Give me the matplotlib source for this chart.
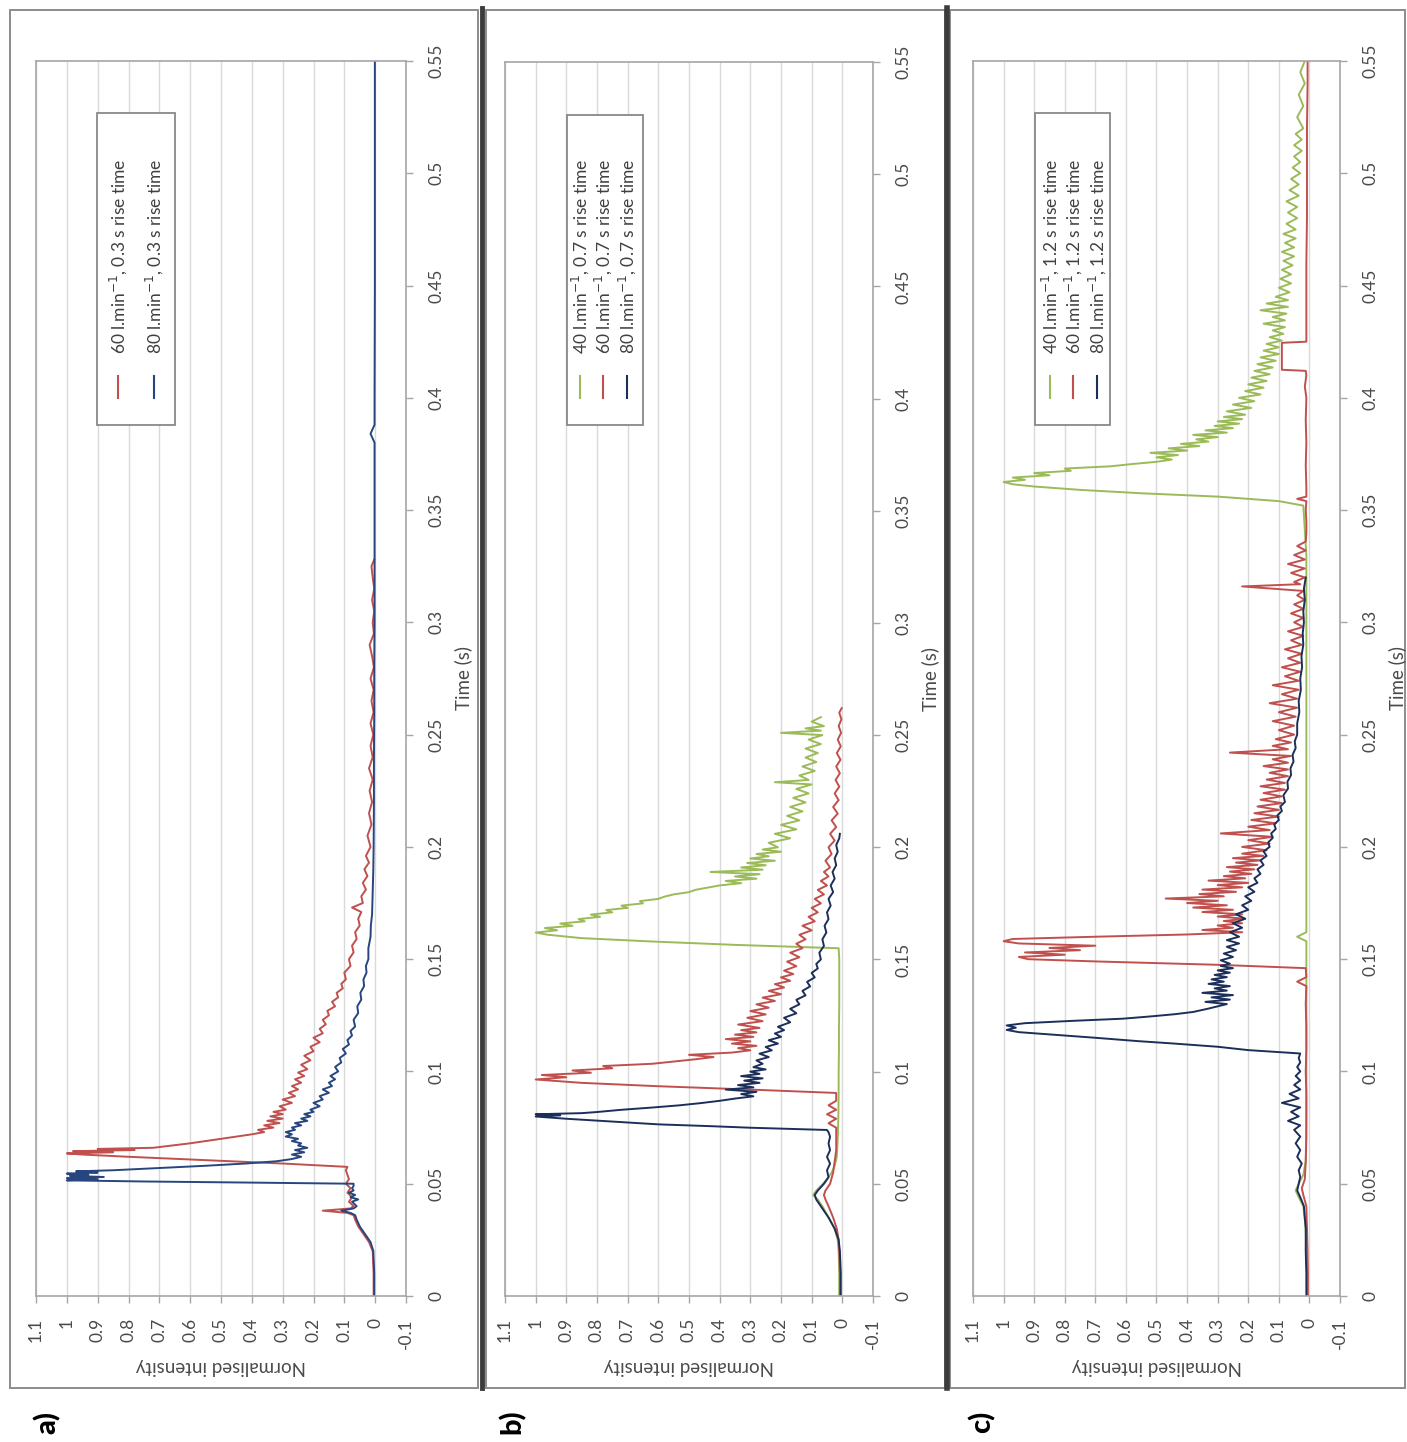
import numpy as np
import matplotlib
matplotlib.use("Agg")
import matplotlib.pyplot as plt
from matplotlib.lines import Line2D
from matplotlib.patches import Rectangle

plt.rcParams['font.family'] = ['Lato', 'DejaVu Sans']
plt.rcParams['mathtext.fontset'] = 'dejavusans'

# ---------------- data ----------------
intensity_ticks = [-0.1, 0.0, 0.1, 0.2, 0.3, 0.4, 0.5, 0.6, 0.7, 0.8, 0.9, 1.0, 1.1]
intensity_labels = ["-0.1", "0", "0.1", "0.2", "0.3", "0.4", "0.5", "0.6", "0.7", "0.8", "0.9", "1", "1.1"]
time_ticks = [0.0, 0.05, 0.1, 0.15, 0.2, 0.25, 0.3, 0.35, 0.4, 0.45, 0.5, 0.55]
time_labels = ["0", "0.05", "0.1", "0.15", "0.2", "0.25", "0.3", "0.35", "0.4", "0.45", "0.5", "0.55"]

legend_a = [r"60 l.min$^{-1}$, 0.3 s rise time", r"80 l.min$^{-1}$, 0.3 s rise time"]
legend_b = [r"40 l.min$^{-1}$, 0.7 s rise time", r"60 l.min$^{-1}$, 0.7 s rise time", r"80 l.min$^{-1}$, 0.7 s rise time"]
legend_c = [r"40 l.min$^{-1}$, 1.2 s rise time", r"60 l.min$^{-1}$, 1.2 s rise time", r"80 l.min$^{-1}$, 1.2 s rise time"]
panel_labels = ["a)", "b)", "c)"]

# Panel a, 60 l/min, 0.3 s
a60_t = [0.000, 0.010, 0.020, 0.024, 0.028, 0.031, 0.034, 0.036, 0.037, 0.038,
         0.039, 0.040, 0.042, 0.044, 0.046, 0.048, 0.050, 0.052, 0.054, 0.056,
         0.0575, 0.0590, 0.0605, 0.0620, 0.0630, 0.0635, 0.0640, 0.0645, 0.0650, 0.0655,
         0.0660, 0.0670, 0.0680, 0.0690, 0.0700, 0.0710, 0.0720, 0.0730, 0.0740, 0.0750,
         0.0760, 0.0770, 0.0780, 0.0790, 0.0800, 0.0810, 0.0820, 0.0830, 0.0845, 0.0860,
         0.0875, 0.0890, 0.0905, 0.0920, 0.0935, 0.0950, 0.0965, 0.0980, 0.0995, 0.1010,
         0.1030, 0.1050, 0.1070, 0.1090, 0.1110, 0.1130, 0.1150, 0.1170, 0.1190, 0.1210,
         0.1230, 0.1250, 0.1270, 0.1290, 0.1310, 0.1330, 0.1350, 0.1370, 0.1390, 0.1410,
         0.1440, 0.1470, 0.1500, 0.1530, 0.1560, 0.1590, 0.1620, 0.1650, 0.1680, 0.1710,
         0.1730, 0.1750, 0.1780, 0.1810, 0.1840, 0.1870, 0.1900, 0.1930, 0.1960, 0.2000,
         0.2050, 0.2100, 0.2150, 0.2200, 0.2250, 0.2300, 0.2350, 0.2400, 0.2450, 0.2500,
         0.2550, 0.2600, 0.2650, 0.2700, 0.2750, 0.2800, 0.2850, 0.2900, 0.2950, 0.3000,
         0.3050, 0.3100, 0.3150, 0.3200, 0.3250, 0.3280]
a60_v = [0.005, 0.005, 0.008, 0.02, 0.04, 0.055, 0.065, 0.07, 0.09, 0.17,
         0.08, 0.07, 0.085, 0.075, 0.09, 0.08, 0.095, 0.085, 0.09, 0.095,
         0.09, 0.3, 0.55, 0.8, 0.95, 1.0, 0.85, 0.98, 0.78, 0.9,
         0.72, 0.66, 0.6, 0.55, 0.5, 0.45, 0.4, 0.36, 0.38, 0.33,
         0.36, 0.31, 0.35, 0.3, 0.34, 0.3, 0.33, 0.29, 0.31, 0.27,
         0.3, 0.26, 0.28, 0.25, 0.27, 0.24, 0.26, 0.23, 0.25, 0.22,
         0.24, 0.21, 0.23, 0.2, 0.21, 0.18, 0.2, 0.17, 0.18, 0.16,
         0.17, 0.15, 0.155, 0.13, 0.14, 0.12, 0.125, 0.105, 0.11, 0.095,
         0.1, 0.08, 0.085, 0.07, 0.075, 0.06, 0.065, 0.05, 0.055, 0.045,
         0.075, 0.04, 0.045, 0.03, 0.04, 0.025, 0.035, 0.02, 0.03, 0.015,
         0.025, 0.012, 0.02, 0.01, 0.018, 0.008, 0.02, 0.008, 0.015, 0.006,
         0.015, 0.005, 0.012, 0.005, 0.015, 0.004, 0.01, 0.018, 0.004, 0.008,
         0.003, 0.01, 0.003, 0.008, 0.012, 0.003]

# Panel a, 80 l/min, 0.3 s
a80_t = [0.000, 0.010, 0.020, 0.024, 0.028, 0.031, 0.034, 0.036, 0.037, 0.038,
         0.039, 0.040, 0.042, 0.043, 0.044, 0.045, 0.046, 0.047, 0.048, 0.049,
         0.0500, 0.0505, 0.0510, 0.0515, 0.0520, 0.0525, 0.0530, 0.0535, 0.0540, 0.0545,
         0.0550, 0.0555, 0.0560, 0.0570, 0.0580, 0.0590, 0.0600, 0.0610, 0.0620, 0.0630,
         0.0640, 0.0650, 0.0660, 0.0670, 0.0680, 0.0690, 0.0700, 0.0710, 0.0720, 0.0730,
         0.0740, 0.0750, 0.0760, 0.0770, 0.0780, 0.0790, 0.0800, 0.0810, 0.0820, 0.0830,
         0.0845, 0.0860, 0.0875, 0.0890, 0.0905, 0.0920, 0.0935, 0.0950, 0.0965, 0.0980,
         0.1000, 0.1020, 0.1040, 0.1060, 0.1080, 0.1100, 0.1120, 0.1140, 0.1160, 0.1180,
         0.1200, 0.1230, 0.1260, 0.1290, 0.1320, 0.1350, 0.1380, 0.1410, 0.1440, 0.1470,
         0.1500, 0.1550, 0.1600, 0.1650, 0.1700, 0.1800, 0.1900, 0.2000, 0.2200, 0.2400,
         0.2600, 0.2800, 0.3000, 0.3200, 0.3400, 0.3600, 0.3800, 0.3840, 0.3880, 0.4000,
         0.4500, 0.5000, 0.5500]
a80_v = [0.003, 0.003, 0.006, 0.015, 0.035, 0.05, 0.06, 0.065, 0.08, 0.11,
         0.07, 0.06, 0.075, 0.055, 0.08, 0.065, 0.085, 0.07, 0.075, 0.07,
         0.07, 0.4, 0.75, 1.0, 0.9, 1.0, 0.88, 0.99, 0.93, 1.0,
         0.9, 0.97, 0.85, 0.7, 0.55, 0.42, 0.32, 0.27, 0.24, 0.27,
         0.23, 0.26, 0.22, 0.25, 0.24, 0.27, 0.25, 0.29, 0.27, 0.29,
         0.26, 0.27, 0.24, 0.26, 0.22, 0.24, 0.21, 0.23, 0.2, 0.21,
         0.18, 0.2, 0.17, 0.18, 0.15, 0.17, 0.14, 0.15, 0.13, 0.145,
         0.12, 0.13, 0.11, 0.115, 0.095, 0.105, 0.085, 0.09, 0.075, 0.08,
         0.065, 0.07, 0.055, 0.058, 0.045, 0.048, 0.036, 0.038, 0.028, 0.03,
         0.022, 0.022, 0.015, 0.014, 0.01, 0.008, 0.006, 0.005, 0.004, 0.004,
         0.003, 0.003, 0.002, 0.002, 0.002, 0.002, 0.002, 0.015, 0.002, 0.002,
         0.001, 0.001, 0.001]

# Panel b, 40 l/min, 0.7 s
b40_t = [0.000, 0.010, 0.020, 0.025, 0.030, 0.035, 0.040, 0.043, 0.045, 0.047,
         0.049, 0.052, 0.055, 0.058, 0.062, 0.070, 0.080, 0.090, 0.100, 0.110,
         0.120, 0.130, 0.140, 0.150, 0.1550, 0.1565, 0.1580, 0.1595, 0.1610, 0.1620,
         0.1630, 0.1640, 0.1650, 0.1660, 0.1670, 0.1680, 0.1690, 0.1700, 0.1710, 0.1720,
         0.1730, 0.1740, 0.1750, 0.1760, 0.1770, 0.1780, 0.1790, 0.1800, 0.1810, 0.1820,
         0.1830, 0.1840, 0.1850, 0.1860, 0.1870, 0.1880, 0.1890, 0.1900, 0.1910, 0.1920,
         0.1930, 0.1940, 0.1950, 0.1960, 0.1970, 0.1980, 0.1990, 0.2000, 0.2020, 0.2040,
         0.2060, 0.2080, 0.2100, 0.2120, 0.2140, 0.2160, 0.2180, 0.2200, 0.2220, 0.2240,
         0.2260, 0.2280, 0.2290, 0.2300, 0.2320, 0.2340, 0.2360, 0.2380, 0.2400, 0.2420,
         0.2440, 0.2460, 0.2480, 0.2500, 0.2510, 0.2520, 0.2530, 0.2540, 0.2560, 0.2580]
b40_v = [0.01, 0.01, 0.012, 0.015, 0.025, 0.045, 0.065, 0.08, 0.095, 0.085,
         0.07, 0.05, 0.035, 0.025, 0.018, 0.015, 0.013, 0.012, 0.012, 0.011,
         0.011, 0.01, 0.01, 0.01, 0.012, 0.35, 0.62, 0.85, 0.96, 1.0,
         0.93, 0.97, 0.88, 0.92, 0.84, 0.86, 0.79, 0.82, 0.75, 0.77,
         0.7, 0.72, 0.65, 0.66, 0.6, 0.58, 0.55, 0.5, 0.48, 0.44,
         0.4, 0.33, 0.38, 0.28, 0.35, 0.27, 0.43, 0.26, 0.33, 0.25,
         0.31, 0.22, 0.3, 0.24, 0.28, 0.2, 0.26, 0.21, 0.24, 0.17,
         0.22, 0.15, 0.2, 0.14, 0.18, 0.13, 0.17, 0.12, 0.16, 0.11,
         0.15, 0.1, 0.22, 0.11, 0.14, 0.09, 0.13, 0.085, 0.12, 0.08,
         0.12, 0.07, 0.11, 0.065, 0.2, 0.07, 0.12, 0.06, 0.1, 0.07]

# Panel b, 60 l/min, 0.7 s
b60_t = [0.000, 0.010, 0.020, 0.025, 0.030, 0.035, 0.040, 0.043, 0.045, 0.047,
         0.050, 0.055, 0.060, 0.065, 0.070, 0.075, 0.077, 0.079, 0.081, 0.083,
         0.085, 0.087, 0.089, 0.0905, 0.0920, 0.0935, 0.0950, 0.0965, 0.0975, 0.0985,
         0.0995, 0.1005, 0.1015, 0.1025, 0.1035, 0.1045, 0.1055, 0.1065, 0.1075, 0.1085,
         0.1095, 0.1105, 0.1115, 0.1125, 0.1135, 0.1145, 0.1155, 0.1165, 0.1175, 0.1185,
         0.1195, 0.1210, 0.1225, 0.1240, 0.1255, 0.1270, 0.1285, 0.1300, 0.1315, 0.1330,
         0.1345, 0.1360, 0.1375, 0.1390, 0.1405, 0.1420, 0.1435, 0.1450, 0.1470, 0.1490,
         0.1510, 0.1530, 0.1550, 0.1570, 0.1590, 0.1610, 0.1630, 0.1650, 0.1670, 0.1690,
         0.1710, 0.1730, 0.1750, 0.1770, 0.1790, 0.1810, 0.1830, 0.1850, 0.1870, 0.1890,
         0.1910, 0.1940, 0.1970, 0.2000, 0.2030, 0.2060, 0.2090, 0.2120, 0.2150, 0.2180,
         0.2210, 0.2240, 0.2270, 0.2300, 0.2330, 0.2360, 0.2390, 0.2420, 0.2450, 0.2480,
         0.2510, 0.2540, 0.2570, 0.2600, 0.2620]
b60_v = [0.008, 0.008, 0.01, 0.012, 0.018, 0.03, 0.045, 0.055, 0.06, 0.055,
         0.04, 0.03, 0.025, 0.02, 0.02, 0.02, 0.045, 0.02, 0.05, 0.02,
         0.045, 0.02, 0.02, 0.02, 0.3, 0.6, 0.85, 1.0, 0.9, 0.98,
         0.82, 0.88, 0.75, 0.78, 0.62, 0.55, 0.48, 0.42, 0.5, 0.36,
         0.3, 0.34, 0.28, 0.36, 0.3, 0.38, 0.29, 0.35, 0.28, 0.33,
         0.27, 0.34, 0.26, 0.31, 0.25, 0.3, 0.24, 0.28, 0.22, 0.26,
         0.2, 0.24, 0.19, 0.22, 0.17, 0.2, 0.16, 0.19, 0.15, 0.18,
         0.14, 0.17, 0.13, 0.15, 0.12, 0.14, 0.1, 0.13, 0.09, 0.11,
         0.08, 0.1, 0.07, 0.09, 0.06, 0.08, 0.05, 0.07, 0.045, 0.06,
         0.04, 0.055, 0.035, 0.045, 0.025, 0.04, 0.02, 0.035, 0.015, 0.03,
         0.012, 0.025, 0.01, 0.022, 0.008, 0.02, 0.006, 0.018, 0.005, 0.015,
         0.004, 0.012, 0.003, 0.01, 0.002]

# Panel b, 80 l/min, 0.7 s
b80_t = [0.000, 0.010, 0.020, 0.025, 0.030, 0.035, 0.040, 0.043, 0.045, 0.047,
         0.050, 0.053, 0.056, 0.059, 0.062, 0.065, 0.068, 0.071, 0.0730, 0.0740,
         0.0750, 0.0757, 0.0765, 0.0780, 0.0790, 0.0800, 0.0805, 0.0810, 0.0815, 0.0820,
         0.0830, 0.0840, 0.0850, 0.0860, 0.0870, 0.0880, 0.0890, 0.0900, 0.0910, 0.0920,
         0.0930, 0.0940, 0.0950, 0.0960, 0.0970, 0.0980, 0.0990, 0.1000, 0.1010, 0.1020,
         0.1035, 0.1050, 0.1065, 0.1080, 0.1095, 0.1110, 0.1125, 0.1140, 0.1155, 0.1170,
         0.1185, 0.1200, 0.1220, 0.1240, 0.1260, 0.1280, 0.1300, 0.1320, 0.1340, 0.1360,
         0.1380, 0.1400, 0.1420, 0.1440, 0.1460, 0.1480, 0.1500, 0.1530, 0.1560, 0.1590,
         0.1620, 0.1650, 0.1680, 0.1710, 0.1740, 0.1770, 0.1800, 0.1830, 0.1860, 0.1890,
         0.1920, 0.1950, 0.1980, 0.2010, 0.2040, 0.2060]
b80_v = [0.005, 0.005, 0.008, 0.012, 0.025, 0.045, 0.07, 0.085, 0.09, 0.08,
         0.06, 0.045, 0.05, 0.04, 0.05, 0.04, 0.045, 0.04, 0.045, 0.05,
         0.3, 0.43, 0.6, 0.78, 0.9, 1.0, 0.92, 1.0, 0.85, 0.8,
         0.72, 0.62, 0.53, 0.46, 0.4, 0.35, 0.29, 0.33, 0.28, 0.38,
         0.29, 0.34, 0.27, 0.32, 0.26, 0.33, 0.27, 0.3, 0.25, 0.29,
         0.26, 0.28, 0.24, 0.27, 0.23, 0.25, 0.21, 0.24, 0.2, 0.22,
         0.19, 0.21, 0.17, 0.19, 0.15, 0.17, 0.14, 0.15, 0.12, 0.13,
         0.105, 0.115, 0.09, 0.1, 0.08, 0.085, 0.07, 0.075, 0.06, 0.065,
         0.052, 0.058, 0.045, 0.05, 0.038, 0.045, 0.03, 0.038, 0.025, 0.032,
         0.02, 0.025, 0.015, 0.02, 0.01, 0.008]

# Panel c, 40 l/min, 1.2 s
c40_t = [0.000, 0.010, 0.020, 0.030, 0.040, 0.044, 0.047, 0.050, 0.054, 0.060,
         0.080, 0.100, 0.120, 0.140, 0.158, 0.160, 0.162, 0.180, 0.200, 0.250,
         0.300, 0.3300, 0.3520, 0.3540, 0.3560, 0.3575, 0.3590, 0.3605, 0.3615, 0.3625,
         0.3635, 0.3645, 0.3655, 0.3665, 0.3675, 0.3685, 0.3695, 0.3705, 0.3715, 0.3725,
         0.3735, 0.3745, 0.3755, 0.3765, 0.3775, 0.3785, 0.3795, 0.3805, 0.3815, 0.3825,
         0.3835, 0.3845, 0.3855, 0.3865, 0.3875, 0.3885, 0.3895, 0.3905, 0.3915, 0.3925,
         0.3940, 0.3955, 0.3970, 0.3985, 0.4000, 0.4015, 0.4030, 0.4045, 0.4060, 0.4075,
         0.4090, 0.4105, 0.4120, 0.4135, 0.4150, 0.4165, 0.4180, 0.4195, 0.4210, 0.4225,
         0.4240, 0.4255, 0.4270, 0.4285, 0.4300, 0.4315, 0.4330, 0.4345, 0.4360, 0.4375,
         0.4390, 0.4405, 0.4420, 0.4435, 0.4450, 0.4470, 0.4490, 0.4510, 0.4530, 0.4550,
         0.4570, 0.4590, 0.4610, 0.4630, 0.4650, 0.4670, 0.4690, 0.4710, 0.4730, 0.4750,
         0.4775, 0.4800, 0.4825, 0.4850, 0.4875, 0.4900, 0.4925, 0.4950, 0.4975, 0.5000,
         0.5025, 0.5050, 0.5075, 0.5100, 0.5125, 0.5150, 0.5175, 0.5200, 0.5250, 0.5300,
         0.5350, 0.5400, 0.5450, 0.5500]
c40_v = [0.008, 0.008, 0.01, 0.012, 0.02, 0.035, 0.045, 0.035, 0.02, 0.012,
         0.01, 0.01, 0.01, 0.01, 0.01, 0.04, 0.01, 0.01, 0.01, 0.01,
         0.01, 0.01, 0.02, 0.1, 0.3, 0.55, 0.75, 0.9, 0.97, 1.0,
         0.93, 0.97, 0.85, 0.9, 0.78, 0.8, 0.65, 0.58, 0.5, 0.45,
         0.5, 0.43, 0.52, 0.4, 0.46, 0.36, 0.42, 0.33, 0.37, 0.3,
         0.38, 0.27, 0.34, 0.25, 0.31, 0.23, 0.3, 0.22, 0.28, 0.21,
         0.27, 0.19, 0.25, 0.18, 0.23, 0.16, 0.21, 0.15, 0.2, 0.14,
         0.19, 0.13, 0.18, 0.12, 0.17, 0.11, 0.16, 0.1, 0.15, 0.1,
         0.14, 0.09, 0.13, 0.085, 0.12, 0.08, 0.15, 0.08, 0.12, 0.075,
         0.16, 0.07, 0.14, 0.07, 0.11, 0.065, 0.1, 0.06, 0.095, 0.06,
         0.09, 0.055, 0.085, 0.05, 0.09, 0.05, 0.08, 0.045, 0.085, 0.045,
         0.075, 0.04, 0.07, 0.04, 0.075, 0.035, 0.065, 0.035, 0.06, 0.03,
         0.055, 0.03, 0.05, 0.025, 0.05, 0.025, 0.045, 0.02, 0.04, 0.02,
         0.035, 0.015, 0.03, 0.015]

# Panel c, 60 l/min, 1.2 s
c60_t = [0.000, 0.010, 0.020, 0.030, 0.040, 0.045, 0.048, 0.052, 0.060, 0.070,
         0.080, 0.090, 0.100, 0.110, 0.120, 0.130, 0.138, 0.140, 0.142, 0.1460,
         0.1475, 0.1490, 0.1500, 0.1510, 0.1520, 0.1530, 0.1540, 0.1550, 0.1560, 0.1570,
         0.1580, 0.1590, 0.1600, 0.1610, 0.1620, 0.1630, 0.1640, 0.1650, 0.1660, 0.1670,
         0.1680, 0.1690, 0.1700, 0.1710, 0.1720, 0.1730, 0.1740, 0.1750, 0.1760, 0.1770,
         0.1780, 0.1790, 0.1800, 0.1810, 0.1820, 0.1830, 0.1840, 0.1850, 0.1860, 0.1870,
         0.1880, 0.1890, 0.1900, 0.1910, 0.1920, 0.1930, 0.1940, 0.1950, 0.1960, 0.1970,
         0.1985, 0.2000, 0.2015, 0.2030, 0.2045, 0.2060, 0.2075, 0.2090, 0.2105, 0.2120,
         0.2135, 0.2150, 0.2165, 0.2180, 0.2195, 0.2210, 0.2225, 0.2240, 0.2255, 0.2270,
         0.2285, 0.2300, 0.2315, 0.2330, 0.2345, 0.2360, 0.2375, 0.2390, 0.2405, 0.2420,
         0.2435, 0.2450, 0.2465, 0.2480, 0.2500, 0.2520, 0.2540, 0.2560, 0.2580, 0.2600,
         0.2620, 0.2640, 0.2660, 0.2680, 0.2700, 0.2720, 0.2740, 0.2760, 0.2780, 0.2800,
         0.2820, 0.2840, 0.2860, 0.2880, 0.2900, 0.2920, 0.2940, 0.2960, 0.2980, 0.3000,
         0.3020, 0.3040, 0.3060, 0.3080, 0.3100, 0.3120, 0.3140, 0.3160, 0.3170, 0.3180,
         0.3200, 0.3220, 0.3240, 0.3260, 0.3280, 0.3300, 0.3320, 0.3340, 0.3360, 0.3400,
         0.3450, 0.3500, 0.3540, 0.3550, 0.3560, 0.3600, 0.3700, 0.3800, 0.3900, 0.4000,
         0.4050, 0.4100, 0.4120, 0.4125, 0.4130, 0.4200, 0.4245, 0.4250, 0.4300, 0.4400,
         0.4600, 0.4800, 0.5000, 0.5200, 0.5400, 0.5500]
c60_v = [0.005, 0.005, 0.006, 0.008, 0.01, 0.02, 0.025, 0.015, 0.012, 0.01,
         0.01, 0.01, 0.012, 0.01, 0.01, 0.012, 0.01, 0.04, 0.01, 0.012,
         0.3, 0.7, 0.92, 0.95, 0.8, 0.93, 0.75, 0.85, 0.7, 0.95,
         1.0, 0.97, 0.7, 0.4, 0.22, 0.35, 0.25, 0.3, 0.22, 0.28,
         0.21, 0.3, 0.22, 0.35, 0.25, 0.38, 0.27, 0.4, 0.3, 0.47,
         0.28, 0.36, 0.24, 0.35, 0.22, 0.3, 0.2, 0.33, 0.21, 0.28,
         0.19, 0.26, 0.18, 0.27, 0.17, 0.24, 0.16, 0.25, 0.15, 0.22,
         0.14, 0.22, 0.13, 0.2, 0.12, 0.29, 0.13, 0.2, 0.11, 0.19,
         0.1, 0.18, 0.1, 0.17, 0.09, 0.16, 0.09, 0.15, 0.08, 0.16,
         0.08, 0.14, 0.07, 0.13, 0.07, 0.15, 0.07, 0.12, 0.06, 0.26,
         0.07, 0.12, 0.06, 0.11, 0.05, 0.1, 0.05, 0.12, 0.045, 0.1,
         0.04, 0.13, 0.04, 0.09, 0.035, 0.12, 0.035, 0.08, 0.03, 0.09,
         0.03, 0.07, 0.025, 0.08, 0.025, 0.06, 0.02, 0.07, 0.02, 0.05,
         0.02, 0.06, 0.02, 0.05, 0.015, 0.04, 0.02, 0.22, 0.03, 0.05,
         0.015, 0.06, 0.015, 0.07, 0.015, 0.05, 0.012, 0.04, 0.012, 0.01,
         0.01, 0.012, 0.01, 0.04, 0.01, 0.01, 0.012, 0.01, 0.012, 0.01,
         0.015, 0.01, 0.012, 0.09, 0.09, 0.09, 0.09, 0.01, 0.01, 0.01,
         0.01, 0.008, 0.008, 0.008, 0.006, 0.006]

# Panel c, 80 l/min, 1.2 s
c80_t = [0.000, 0.010, 0.020, 0.030, 0.040, 0.044, 0.047, 0.050, 0.053, 0.056,
         0.059, 0.062, 0.065, 0.068, 0.071, 0.074, 0.076, 0.078, 0.080, 0.082,
         0.084, 0.086, 0.088, 0.090, 0.092, 0.094, 0.096, 0.098, 0.100, 0.102,
         0.104, 0.106, 0.1080, 0.1095, 0.1110, 0.1125, 0.1135, 0.1150, 0.1163, 0.1175,
         0.1185, 0.1195, 0.1205, 0.1215, 0.1225, 0.1235, 0.1245, 0.1255, 0.1265, 0.1280,
         0.1290, 0.1300, 0.1310, 0.1320, 0.1330, 0.1340, 0.1350, 0.1360, 0.1370, 0.1380,
         0.1390, 0.1400, 0.1410, 0.1420, 0.1430, 0.1440, 0.1450, 0.1460, 0.1470, 0.1480,
         0.1495, 0.1510, 0.1525, 0.1540, 0.1555, 0.1570, 0.1585, 0.1600, 0.1620, 0.1640,
         0.1660, 0.1680, 0.1700, 0.1720, 0.1740, 0.1760, 0.1780, 0.1800, 0.1820, 0.1840,
         0.1860, 0.1880, 0.1900, 0.1920, 0.1940, 0.1960, 0.1980, 0.2000, 0.2020, 0.2040,
         0.2060, 0.2080, 0.2100, 0.2120, 0.2140, 0.2160, 0.2180, 0.2200, 0.2230, 0.2260,
         0.2290, 0.2320, 0.2350, 0.2380, 0.2410, 0.2440, 0.2470, 0.2500, 0.2550, 0.2600,
         0.2650, 0.2700, 0.2750, 0.2800, 0.2850, 0.2900, 0.2950, 0.3000, 0.3050, 0.3100,
         0.3150, 0.3200]
c80_v = [0.01, 0.01, 0.012, 0.012, 0.018, 0.03, 0.04, 0.035, 0.03, 0.035,
         0.025, 0.04, 0.03, 0.045, 0.03, 0.05, 0.03, 0.07, 0.035, 0.06,
         0.03, 0.09, 0.035, 0.065, 0.03, 0.05, 0.03, 0.045, 0.03, 0.04,
         0.03, 0.035, 0.03, 0.2, 0.3, 0.45, 0.56, 0.7, 0.83, 0.95,
         0.99, 0.96, 0.99, 0.93, 0.78, 0.61, 0.52, 0.44, 0.38, 0.33,
         0.3, 0.27, 0.34, 0.26, 0.32, 0.25, 0.35, 0.27, 0.31, 0.26,
         0.33, 0.28, 0.32, 0.27, 0.31, 0.26, 0.3, 0.25, 0.29, 0.26,
         0.29, 0.25, 0.28, 0.24, 0.27, 0.23, 0.27, 0.23, 0.26, 0.22,
         0.25, 0.21, 0.24, 0.2, 0.22, 0.19, 0.21, 0.18, 0.2, 0.17,
         0.18, 0.16, 0.17, 0.15, 0.16, 0.14, 0.15, 0.13, 0.135, 0.12,
         0.125, 0.11, 0.115, 0.1, 0.105, 0.09, 0.095, 0.08, 0.085, 0.07,
         0.072, 0.06, 0.062, 0.052, 0.055, 0.045, 0.048, 0.04, 0.04, 0.033,
         0.035, 0.028, 0.03, 0.024, 0.026, 0.02, 0.022, 0.018, 0.02, 0.015,
         0.018, 0.012]

# ---------------- styling ----------------
W, H = 1407, 1442
GREEN, RED, BLUE_A, BLUE = "#9bbb59", "#c0504d", "#27457f", "#1c2f5a"
GRID = "#d9d9d9"
SPINE = "#a6a6a6"
TXT = "#4a4a4a"

fig = plt.figure(figsize=(W / 100, H / 100), dpi=100)
fig.patch.set_facecolor("white")


def fx(x):
    return x / W


def fy(y):
    return 1 - y / H


def fline(xs, ys, **kw):
    fig.add_artist(Line2D([fx(x) for x in xs], [fy(y) for y in ys],
                          transform=fig.transFigure, **kw))


def frect(x0, y0, x1, y1, **kw):
    fig.add_artist(Rectangle((fx(x0), fy(y1)), (x1 - x0) / W, (y1 - y0) / H,
                             transform=fig.transFigure, **kw))


# panel frames
frect(10, 10, 478, 1388, fill=False, edgecolor="#8c8c8c", lw=1.4)
frect(486, 10, 945, 1388, fill=False, edgecolor="#8c8c8c", lw=1.4)
frect(950, 10, 1405, 1388, fill=False, edgecolor="#8c8c8c", lw=1.4)
fline([482, 482], [8, 1388], color="#3c3c3c", lw=3.5)
fline([947, 947], [8, 1388], color="#3c3c3c", lw=4.0)

panels = [
    dict(rect=(36, 61, 406, 1296),
         series=[(a60_t, a60_v, RED), (a80_t, a80_v, BLUE_A)],
         legend=legend_a, lbox=(97, 113, 175, 425), lx=[118, 154],
         lcolors=[RED, BLUE_A], tlx=463, label_xy=(47, 1422)),
    dict(rect=(505, 62, 873, 1296),
         series=[(b40_t, b40_v, GREEN), (b60_t, b60_v, RED), (b80_t, b80_v, BLUE)],
         legend=legend_b, lbox=(567, 115, 643, 425), lx=[580, 603, 627],
         lcolors=[GREEN, RED, BLUE], tlx=930, label_xy=(512, 1422)),
    dict(rect=(973, 61, 1340, 1296),
         series=[(c40_t, c40_v, GREEN), (c60_t, c60_v, RED), (c80_t, c80_v, BLUE)],
         legend=legend_c, lbox=(1035, 113, 1110, 425), lx=[1050, 1073, 1097],
         lcolors=[GREEN, RED, BLUE], tlx=1397, label_xy=(982, 1422)),
]

for p, plabel in zip(panels, panel_labels):
    x0, y0, x1, y1 = p["rect"]
    ax = fig.add_axes([fx(x0), fy(y1), (x1 - x0) / W, (y1 - y0) / H])
    ax.set_facecolor("white")
    for t, v, c in p["series"]:
        ax.plot(v, t, color=c, lw=1.4, solid_joinstyle="round")
    ax.set_xlim(1.1, -0.1)
    ax.set_ylim(0, 0.55)
    ax.set_xticks(intensity_ticks)
    ax.set_xticklabels(intensity_labels)
    ax.set_yticks(time_ticks)
    ax.set_yticklabels(time_labels)
    ax.grid(axis="x", color=GRID, lw=1.0)
    ax.set_axisbelow(True)
    for s in ax.spines.values():
        s.set_color(SPINE)
        s.set_linewidth(1.2)
    ax.yaxis.tick_right()
    ax.tick_params(axis="x", direction="out", length=5, width=1, color=SPINE,
                   labelsize=12.5, labelcolor=TXT, pad=11, labelrotation=90)
    ax.tick_params(axis="y", direction="out", length=5, width=1, color=SPINE,
                   labelsize=12.5, labelcolor=TXT, pad=11, labelrotation=90,
                   left=False, right=True, labelleft=False, labelright=True)
    for lbl in ax.get_yticklabels():
        lbl.set_verticalalignment("center")
        lbl.set_horizontalalignment("left")
    for lbl in ax.get_xticklabels():
        lbl.set_verticalalignment("top")
        lbl.set_horizontalalignment("center")

    # axis titles
    fig.text(p["tlx"] / W, fy((y0 + y1) / 2), "Time (s)", rotation=90,
             ha="center", va="center", fontsize=13.5, color=TXT)
    fig.text(fx((x0 + x1) / 2), fy(1366), "Normalised intensity", rotation=180,
             ha="center", va="center", fontsize=13.5, color=TXT)

    # legend
    bx0, by0, bx1, by1 = p["lbox"]
    frect(bx0, by0, bx1, by1, facecolor="white", edgecolor="#7f7f7f", lw=1.2, zorder=5)
    for lxp, txt, col in zip(p["lx"], p["legend"], p["lcolors"]):
        fline([lxp, lxp], [398, 376], color=col, lw=1.5, zorder=6)
        fig.text(fx(lxp), fy(354), txt, rotation=90, ha="center", va="bottom",
                 fontsize=12.5, color="#404040", zorder=6)

    # panel label
    lx_, ly_ = p["label_xy"]
    fig.text(fx(lx_), fy(ly_), plabel, rotation=90, ha="center", va="center",
             fontsize=21, fontweight="black", color="black")

fig.savefig("out.png", dpi=100, facecolor="white")
